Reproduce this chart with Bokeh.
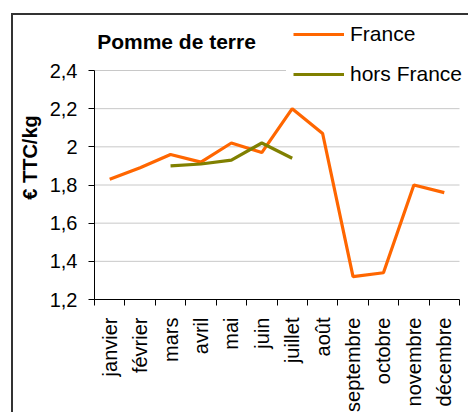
import math
from bokeh.plotting import figure
from bokeh.models import Range1d, FixedTicker, Legend, LegendItem, Label
from bokeh.embed import file_html
from bokeh.resources import INLINE

# ---- data ----
months = ["janvier", "février", "mars", "avril", "mai", "juin", "juillet",
          "août", "septembre", "octobre", "novembre", "décembre"]
france = [1.83, 1.89, 1.96, 1.92, 2.02, 1.97, 2.20, 2.07, 1.32, 1.34, 1.80, 1.76]
hors_france_months = ["mars", "avril", "mai", "juin", "juillet"]
hors_france = [1.90, 1.91, 1.93, 2.02, 1.94]
y_ticks = [1.2, 1.4, 1.6, 1.8, 2.0, 2.2, 2.4]
y_tick_labels = ["1,2", "1,4", "1,6", "1,8", "2", "2,2", "2,4"]
series_names = ["France", "hors France"]
title_text = "Pomme de terre"
y_title = "€ TTC/kg"

FONT = "Liberation Sans"
ORANGE = "#FF6600"
OLIVE = "#808000"

# ---- layout (canvas pixels) ----
W, H = 457, 399
LEFT, BOTTOM = 81, 115          # left / bottom panels
PLOT_W, PLOT_H = 365, 229       # size of the value area (0..12, 1.2..2.4)
n = len(months)
frame_w, frame_h = W - LEFT, H - BOTTOM
x_end = frame_w * n / PLOT_W                                  # room for legend text
y_end = y_ticks[0] + frame_h * (y_ticks[-1] - y_ticks[0]) / PLOT_H  # room for title

centers = [i + 0.5 for i in range(n)]
france_x = centers
hors_x = [months.index(m) + 0.5 for m in hors_france_months]

p = figure(width=W, height=H, output_backend="svg", toolbar_location=None,
           x_range=Range1d(0, x_end), y_range=Range1d(y_ticks[0], y_end),
           min_border_left=LEFT, min_border_top=0, min_border_right=0,
           min_border_bottom=BOTTOM,
           styles={"position": "relative", "left": "11px", "top": "13px",
                   "border-left": "2px solid #333", "border-top": "2px solid #333"})
p.outline_line_color = None
p.background_fill_color = "white"
p.border_fill_color = "white"
p.xgrid.visible = False
p.ygrid.visible = False

# x axis: labels at category centres, ticks at category boundaries
xa = p.xaxis[0]
xa.bounds = (0, n)
xa.ticker = FixedTicker(ticks=centers, minor_ticks=list(range(n + 1)))
xa.major_label_overrides = {c: m for c, m in zip(centers, months)}
xa.major_tick_out = 0
xa.major_tick_in = 0
xa.minor_tick_out = 6
xa.minor_tick_in = 0
xa.minor_tick_line_color = "#000000"
xa.axis_line_color = "#000000"
xa.major_label_orientation = math.pi / 2
xa.major_label_standoff = 12
xa.major_label_text_font = FONT
xa.major_label_text_font_size = "20px"
xa.major_label_text_color = "#000000"

ya = p.yaxis[0]
ya.bounds = (y_ticks[0], y_ticks[-1])
ya.ticker = FixedTicker(ticks=y_ticks, minor_ticks=[])
ya.major_label_overrides = {v: s for v, s in zip(y_ticks, y_tick_labels)}
ya.major_tick_out = 6
ya.major_tick_in = 0
ya.minor_tick_out = 0
ya.minor_tick_in = 0
ya.major_tick_line_color = "#000000"
ya.axis_line_color = "#000000"
ya.major_label_standoff = 11
ya.major_label_text_font = FONT
ya.major_label_text_font_size = "20px"
ya.major_label_text_color = "#000000"
ya.axis_label = y_title
ya.axis_label_text_font = FONT
ya.axis_label_text_font_size = "20px"
ya.axis_label_text_font_style = "bold"
ya.axis_label_text_color = "#000000"
ya.axis_label_standoff = 6

# horizontal gridlines across the category span only
grid_y = y_ticks[1:]
p.segment(x0=[0] * len(grid_y), y0=grid_y, x1=[n] * len(grid_y), y1=grid_y,
          line_color="#c8c8c8", line_width=1)

r1 = p.line(france_x, france, line_color=ORANGE, line_width=3.2)
r2 = p.line(hors_x, hors_france, line_color=OLIVE, line_width=3.2)

# legend box: top at frame top, left edge a bit before the legend lines
PAD, ITEM_H, SPACING = 7, 24, 16
leg_h = 2 * PAD + 2 * ITEM_H + SPACING
legend = Legend(items=[LegendItem(label=series_names[0], renderers=[r1]),
                       LegendItem(label=series_names[1], renderers=[r2])],
                location=(192, frame_h - leg_h), orientation="vertical",
                glyph_width=51, glyph_height=ITEM_H, label_height=ITEM_H,
                label_standoff=6, spacing=SPACING, padding=PAD, margin=0,
                label_text_font=FONT, label_text_font_size="21px",
                label_text_color="#000000",
                border_line_alpha=0, background_fill_color="white",
                background_fill_alpha=1)
p.add_layout(legend)

title = Label(x=82, y=frame_h - 26, x_units="screen", y_units="screen", text=title_text,
              text_align="center", text_baseline="alphabetic",
              text_font=FONT, text_font_size="21px", text_font_style="bold",
              text_color="#000000")
p.add_layout(title)

open("out.html", "w").write(file_html(p, INLINE))
